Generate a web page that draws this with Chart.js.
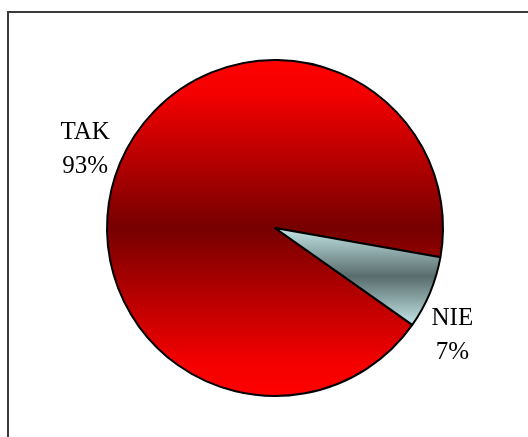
<!DOCTYPE html>
<html>
<head>
<meta charset="utf-8">
<script src="https://cdn.jsdelivr.net/npm/chart.js@4.4.1/dist/chart.umd.min.js"></script>
<style>
  html, body { margin: 0; padding: 0; background: #fff; overflow: hidden; }
  #wrap { position: relative; width: 528px; height: 437px; }
  #frame { position: absolute; left: 7px; top: 11px; width: 700px; height: 700px;
           border-left: 2px solid #3a3a3a; border-top: 2px solid #3a3a3a; }
  #pie { position: absolute; left: 0; top: 0; }
</style>
</head>
<body>
<div id="wrap">
  <div id="frame"></div>
  <canvas id="pie" width="528" height="437"></canvas>
</div>
<script>
// dane z wykresu
const categories = ['TAK', 'NIE'];
const values = [93, 7];
const percentLabels = ['93%', '7%'];

// kolory gradientu [pozycja, kolor]
const gradientStops = [
    [[0, '#FF0000'], [0.1, '#F40000'], [0.5, '#760000'], [0.9, '#F40000'], [1, '#FF0000']],
    [[0, '#C4E6E8'], [0.5, '#586C6C'], [1, '#C4E6E8']]
];

// gradient pionowy w obrebie kazdego wycinka
const sliceGradient = {
    id: 'sliceGradient',
    beforeDatasetsDraw(chart) {
        const ctx = chart.ctx;
        chart.getDatasetMeta(0).data.forEach((arc, i) => {
            const { x, y, outerRadius, startAngle, endAngle } = arc;
            let yMin = y, yMax = y;
            for (let k = 0; k <= 200; k++) {
                const a = startAngle + (endAngle - startAngle) * k / 200;
                const py = y + Math.sin(a) * outerRadius;
                yMin = Math.min(yMin, py);
                yMax = Math.max(yMax, py);
            }
            const g = ctx.createLinearGradient(0, yMin, 0, yMax);
            gradientStops[i].forEach(s => g.addColorStop(s[0], s[1]));
            arc.options.backgroundColor = g;
        });
    }
};

// etykiety poza kolem: nazwa + procent
const outsideLabels = {
    id: 'outsideLabels',
    afterDatasetsDraw(chart, args, opts) {
        const ctx = chart.ctx;
        ctx.save();
        ctx.font = '25px "Liberation Serif", "Times New Roman", serif';
        ctx.fillStyle = '#000';
        ctx.textAlign = 'center';
        ctx.textBaseline = 'alphabetic';
        chart.getDatasetMeta(0).data.forEach((arc, i) => {
            const mid = (arc.startAngle + arc.endAngle) / 2 + opts.angleShift[i] * Math.PI / 180;
            const d = arc.outerRadius + opts.distance[i];
            const cx = arc.x + Math.cos(mid) * d;
            const cy = arc.y + Math.sin(mid) * d;
            ctx.fillText(categories[i], cx, cy - 17);
            ctx.fillText(percentLabels[i], cx, cy + 17);
        });
        ctx.restore();
    }
};

const chart = new Chart(document.getElementById('pie').getContext('2d'), {
    type: 'pie',
    data: {
        labels: categories,
        datasets: [{
            data: values,
            backgroundColor: ['#FF0000', '#A0C0C0'],
            borderColor: '#000',
            borderWidth: 2
        }]
    },
    options: {
        responsive: false,
        animation: false,
        events: [],
        rotation: 125.2,
        layout: { padding: { top: 59, bottom: 40, left: 106, right: 84 } },
        plugins: {
            legend: { display: false },
            tooltip: { enabled: false },
            outsideLabels: { angleShift: [-1.9, 10.2], distance: [35, 43] }
        }
    },
    plugins: [sliceGradient, outsideLabels]
});
</script>
</body>
</html>
